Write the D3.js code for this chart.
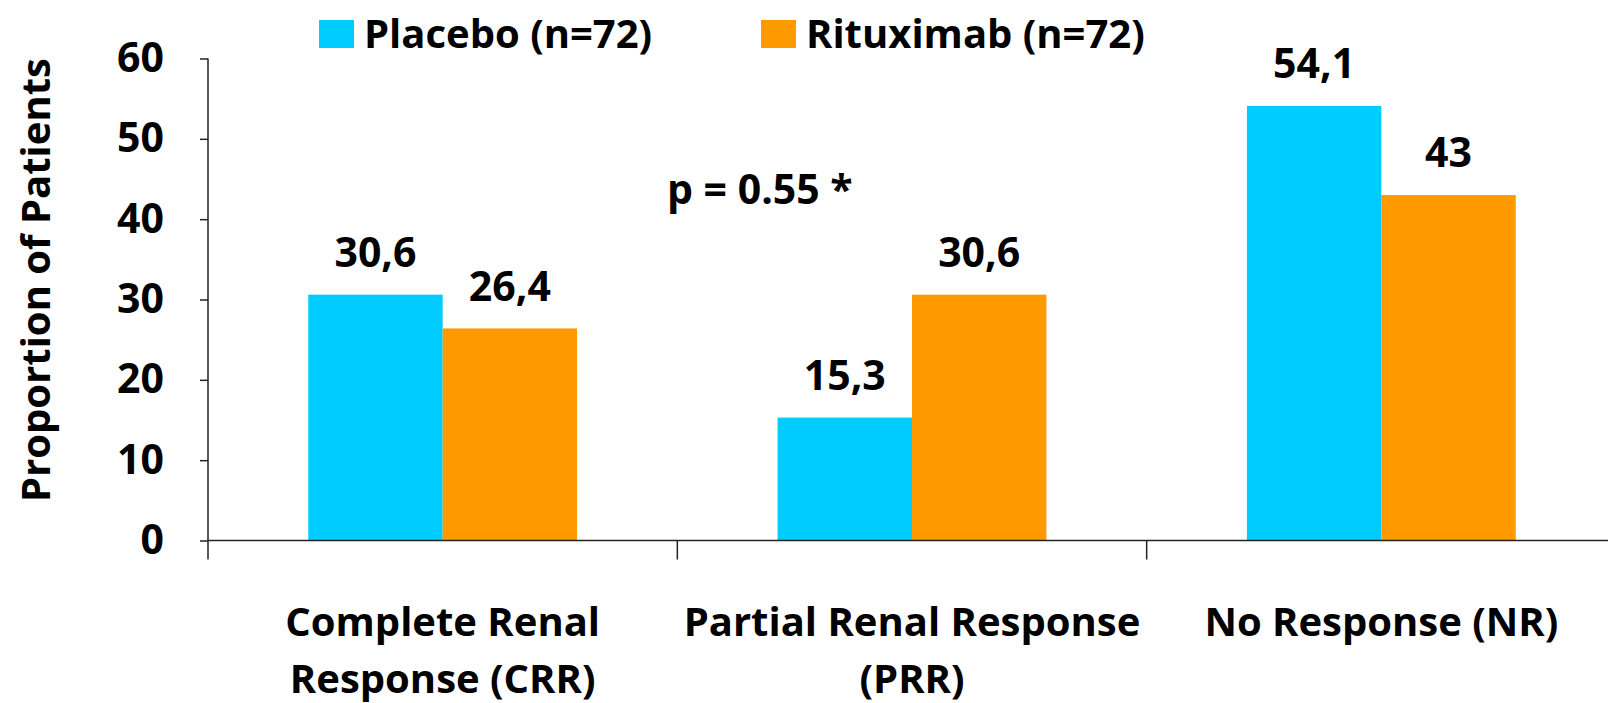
<!DOCTYPE html>
<html>
<head>
<meta charset="utf-8">
<script src="https://cdnjs.cloudflare.com/ajax/libs/d3/7.8.5/d3.min.js"></script>
<style>
  body { margin: 0; background: #fff; }
  svg text { font-family: "Open Sans", sans-serif; font-weight: bold; fill: #000; }
</style>
</head>
<body>
<svg width="1608" height="703"></svg>
<script>
var categories = [["Complete Renal", "Response (CRR)"], ["Partial Renal Response", "(PRR)"], ["No Response (NR)"]];
var seriesNames = ["Placebo (n=72)", "Rituximab (n=72)"];
var placebo = [30.6, 15.3, 54.1];
var rituximab = [26.4, 30.6, 43];
var valueLabels = [["30,6", "15,3", "54,1"], ["26,4", "30,6", "43"]];
var yTicks = [0, 10, 20, 30, 40, 50, 60];
var colors = ["#00CCFF", "#FF9900"];

var svg = d3.select("svg"),
  margin = { top: 58.5, left: 208, bottom: 162.5 },
  height = +svg.attr("height") - margin.top - margin.bottom;

var catKeys = categories.map(function(d, i) { return i; });

var x0 = d3.scaleBand().domain(catKeys).range([0, 1408]).padding(0);
var x1 = d3.scaleBand().domain([0, 1]).range([0, x0.bandwidth()]).paddingInner(0).paddingOuter(0.746);
var y = d3.scaleLinear().domain([0, 60]).range([height, 0]);

var g = svg.append("g")
  .attr("transform", "translate(" + margin.left + "," + margin.top + ")");

// bars + value labels
var series = [placebo, rituximab];
series.forEach(function(vals, s) {
  g.selectAll(".bar" + s)
    .data(vals)
    .enter()
    .append("rect")
    .attr("x", function(d, i) { return x0(i) + x1(s); })
    .attr("y", function(d) { return y(d); })
    .attr("width", x1.bandwidth())
    .attr("height", function(d) { return height - y(d); })
    .attr("fill", colors[s]);

  g.selectAll(".lab" + s)
    .data(vals)
    .enter()
    .append("text")
    .attr("x", function(d, i) { return x0(i) + x1(s) + x1.bandwidth() / 2; })
    .attr("y", function(d) { return y(d) - 42; })
    .attr("dy", "0.35em")
    .attr("text-anchor", "middle")
    .style("font-size", "41px")
    .text(function(d, i) { return valueLabels[s][i]; });
});

// y axis
var yAxis = d3.axisLeft(y).tickValues(yTicks).tickSize(8).tickPadding(36);
var ya = g.append("g").call(yAxis);
ya.select(".domain").remove();
ya.selectAll("line").attr("stroke", "#222").attr("stroke-width", 1.5);
ya.selectAll("text").style("font-size", "41px").attr("fill", "#000");

g.append("line")
  .attr("x1", 0).attr("x2", 0)
  .attr("y1", y(60)).attr("y2", height + 19)
  .attr("stroke", "#222").attr("stroke-width", 1.5);

// x axis baseline and category boundary ticks
g.append("line")
  .attr("x1", 0).attr("x2", x0.range()[1])
  .attr("y1", height).attr("y2", height)
  .attr("stroke", "#222").attr("stroke-width", 1.5);

g.selectAll(".xtick")
  .data(catKeys.slice(1))
  .enter()
  .append("line")
  .attr("x1", function(d) { return x0(d); })
  .attr("x2", function(d) { return x0(d); })
  .attr("y1", height).attr("y2", height + 19)
  .attr("stroke", "#222").attr("stroke-width", 1.5);

// category labels
var cl = g.selectAll(".cat")
  .data(categories)
  .enter()
  .append("text")
  .attr("text-anchor", "middle")
  .style("font-size", "40px")
  .attr("transform", function(d, i) {
    return "translate(" + (x0(i) + x0.bandwidth() / 2) + "," + (height + 81) + ")";
  });
cl.selectAll("tspan")
  .data(function(d) { return d; })
  .enter()
  .append("tspan")
  .attr("x", 0)
  .attr("dy", function(d, i) { return i === 0 ? "0.35em" : "57px"; })
  .text(function(d) { return d; });

// y axis title
svg.append("text")
  .attr("transform", "translate(36," + 280 + ") rotate(-90)")
  .attr("dy", "0.35em")
  .style("text-anchor", "middle")
  .style("font-size", "40px")
  .text("Proportion of Patients");

// p-value annotation
svg.append("text")
  .attr("x", 667)
  .attr("y", 190)
  .attr("dy", "0.35em")
  .style("font-size", "41px")
  .text("p = 0.55 *");

// legend
var legendX = [319, 761];
var leg = svg.selectAll(".legend")
  .data(seriesNames)
  .enter()
  .append("g")
  .attr("transform", function(d, i) { return "translate(" + legendX[i] + ",20)"; });
leg.append("rect")
  .attr("width", 35).attr("height", 28)
  .attr("fill", function(d, i) { return colors[i]; });
leg.append("text")
  .attr("x", 45).attr("y", 14)
  .attr("dy", "0.35em")
  .style("font-size", "40px")
  .text(function(d) { return d; });
</script>
</body>
</html>
